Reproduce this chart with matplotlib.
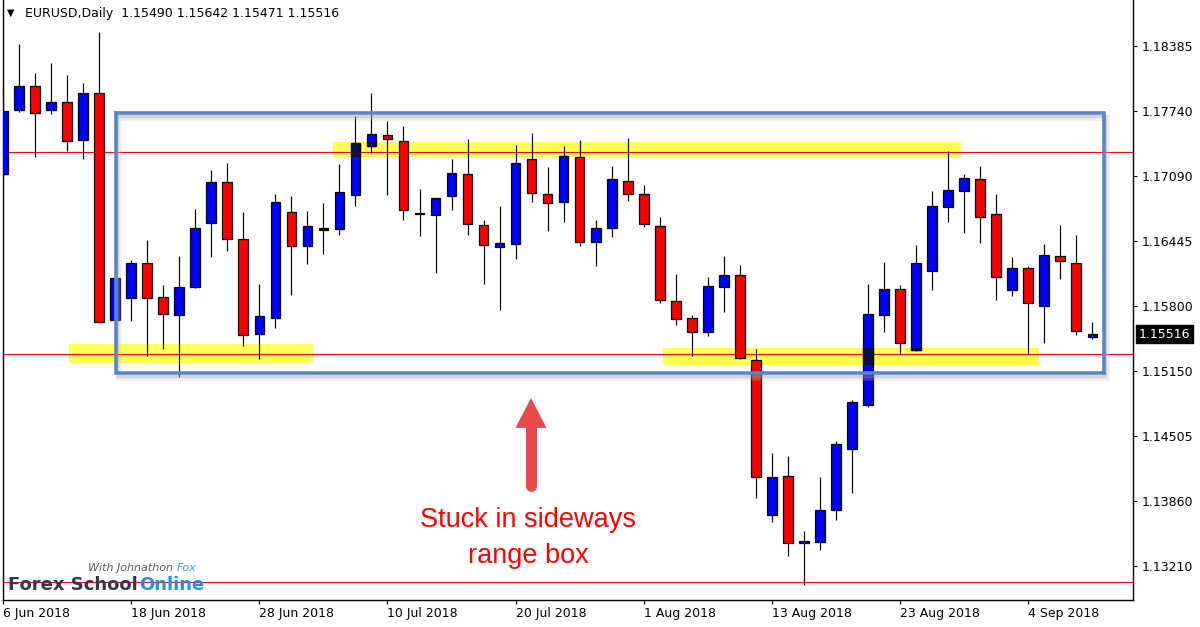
import numpy as np
import matplotlib
matplotlib.use('Agg')
import matplotlib.pyplot as plt
from matplotlib.patches import Rectangle
import matplotlib.patheffects as pe

# ── data: EURUSD daily bars, 6 Jun 2018 .. 10 Sep 2018 ─────────────────────────
SYMBOL = "EURUSD,Daily"

opens = [1.17111, 1.17748, 1.17987, 1.17748, 1.17828, 1.17450, 1.17917, 1.15655,
         1.15878, 1.16226, 1.15888, 1.15708, 1.15987, 1.16624, 1.17032, 1.16465,
         1.15519, 1.15679, 1.16733, 1.16395, 1.16554, 1.16564, 1.16902, 1.17390,
         1.17499, 1.17440, 1.16723, 1.16703, 1.16893, 1.17111, 1.16604, 1.16385,
         1.16415, 1.17261, 1.16912, 1.16833, 1.17281, 1.16435, 1.16574, 1.17042,
         1.16912, 1.16594, 1.15848, 1.15679, 1.15539, 1.15987, 1.16106, 1.15261,
         1.13718, 1.14107, 1.13440, 1.13450, 1.13768, 1.14375, 1.14813, 1.15708,
         1.15967, 1.15360, 1.16146, 1.16783, 1.16942, 1.17062, 1.16713, 1.15957,
         1.16176, 1.15798, 1.16296, 1.16226, 1.15490]
highs = [1.17967, 1.18405, 1.18116, 1.18216, 1.18096, 1.18017, 1.18524, 1.16080,
         1.16256, 1.16455, 1.16007, 1.16296, 1.16763, 1.17151, 1.17221, 1.16733,
         1.16017, 1.16912, 1.16893, 1.16743, 1.16823, 1.17211, 1.17689, 1.17917,
         1.17639, 1.17589, 1.16962, 1.16873, 1.17261, 1.17460, 1.16654, 1.16793,
         1.17400, 1.17519, 1.17181, 1.17390, 1.17450, 1.16654, 1.17191, 1.17470,
         1.17002, 1.16684, 1.16116, 1.15708, 1.16087, 1.16296, 1.16206, 1.15370,
         1.14335, 1.14306, 1.13559, 1.14097, 1.14455, 1.14863, 1.16017, 1.16236,
         1.16007, 1.16405, 1.16942, 1.17340, 1.17111, 1.17191, 1.16912, 1.16286,
         1.16196, 1.16415, 1.16604, 1.16504, 1.15642]
lows = [1.17090, 1.17728, 1.17281, 1.17708, 1.17340, 1.17261, 1.15629, 1.15650,
        1.15649, 1.15301, 1.15370, 1.15092, 1.15977, 1.16286, 1.16345, 1.15400,
        1.15271, 1.15579, 1.15907, 1.16216, 1.16315, 1.16504, 1.16793, 1.17320,
        1.16902, 1.16654, 1.16495, 1.16126, 1.16753, 1.16504, 1.16017, 1.15758,
        1.16266, 1.16833, 1.16544, 1.16634, 1.16395, 1.16196, 1.16485, 1.16843,
        1.16584, 1.15828, 1.15609, 1.15301, 1.15500, 1.15738, 1.15271, 1.13888,
        1.13649, 1.13311, 1.13022, 1.13370, 1.13669, 1.13937, 1.14793, 1.15539,
        1.15310, 1.15350, 1.15957, 1.16634, 1.16524, 1.16425, 1.15858, 1.15898,
        1.15310, 1.15430, 1.16067, 1.15509, 1.15471]
closes = [1.17738, 1.17987, 1.17718, 1.17828, 1.17440, 1.17917, 1.15639, 1.16077,
          1.16226, 1.15878, 1.15718, 1.15987, 1.16574, 1.17032, 1.16465, 1.15509,
          1.15699, 1.16833, 1.16395, 1.16594, 1.16574, 1.16932, 1.17420, 1.17509,
          1.17460, 1.16753, 1.16718, 1.16873, 1.17121, 1.16614, 1.16405, 1.16425,
          1.17221, 1.16922, 1.16823, 1.17290, 1.16435, 1.16574, 1.17062, 1.16912,
          1.16614, 1.15858, 1.15669, 1.15539, 1.15997, 1.16106, 1.15281, 1.14097,
          1.14097, 1.13440, 1.13460, 1.13768, 1.14425, 1.14843, 1.15718, 1.15967,
          1.15430, 1.16226, 1.16793, 1.16952, 1.17072, 1.16684, 1.16087, 1.16176,
          1.15828, 1.16305, 1.16246, 1.15549, 1.15516]

date_ticks = [0, 8, 16, 24, 32, 40, 48, 56, 64]
date_labels = ["6 Jun 2018", "18 Jun 2018", "28 Jun 2018", "10 Jul 2018", "20 Jul 2018",
               "1 Aug 2018", "13 Aug 2018", "23 Aug 2018", "4 Sep 2018"]
price_ticks = [1.18385, 1.17740, 1.17090, 1.16445, 1.15800, 1.15150, 1.14505, 1.13860, 1.13210]

levels = [1.17333, 1.15320, 1.13052]          # red horizontal lines
# yellow zones: (first bar, last bar, low, high)
zones = [(20.6, 59.8, 1.17281, 1.17430),
         (4.1, 19.35, 1.15231, 1.15420),
         (41.2, 64.7, 1.15211, 1.15380)]
range_box = (7.05, 68.73, 1.15131, 1.17718)

# ── figure ────────────────────────────────────────────────────────────────────
W, H = 1200, 627
fig = plt.figure(figsize=(W / 100, H / 100), dpi=100)
ax = fig.add_axes([3 / W, 27 / H, 1130 / W, 600 / H])
ax.set_xlim(0, 70.54)
ax.set_ylim(1.128715, 1.188428)

o = np.array(opens); h = np.array(highs); l = np.array(lows); c = np.array(closes)
x = np.arange(len(o))
up = c >= o
body_col = np.where(up, '#0000ff', '#ff0000')
bottoms = np.minimum(o, c)
heights = np.maximum(np.abs(c - o), 0.00002)

# levels + zones
for lv in levels:
    ax.axhline(lv, color='#ff0000', lw=0.8, zorder=2)

zone_patches = []
for x0, x1, lo, hi in zones:
    r = Rectangle((x0, lo), x1 - x0, hi - lo, facecolor='#ffff55', edgecolor='none', zorder=1)
    ax.add_patch(r)
    zone_patches.append(r)

# candles
ax.vlines(x, l, h, color='black', lw=0.85, zorder=3)
ax.bar(x, heights, bottom=bottoms, width=0.6, color=body_col, edgecolor='black',
       linewidth=0.9, zorder=4)

# blue bodies look dark navy where the highlight sits over them
for r in zone_patches:
    bars = ax.bar(x[up], heights[up], bottom=bottoms[up], width=0.6, color='#0b0b4f',
                  edgecolor='black', linewidth=0.9, zorder=4.5)
    for p in bars:
        p.set_clip_path(r)

# range box with soft drop shadow
bx0, bx1, blo, bhi = range_box
ax.plot([bx0, bx1, bx1, bx0, bx0], [bhi, bhi, blo, blo, bhi], color='#5a86c6', lw=2.6,
        solid_joinstyle='miter', zorder=6,
        path_effects=[pe.SimpleLineShadow(offset=(2, -3.5), shadow_color='#bbbbbb', alpha=0.25, linewidth=4),
                      pe.SimpleLineShadow(offset=(1, -2), shadow_color='#999999', alpha=0.3, linewidth=2.5),
                      pe.Normal()])

# arrow
ax_x = 32.96
arrow_col = '#e84a4a'
ax.plot([ax_x, ax_x], [1.14010, 1.14600], color=arrow_col, lw=7.9, solid_capstyle='round', zorder=7)
ax.fill([ax_x - 0.97, ax_x + 0.97, ax_x], [1.14584, 1.14584, 1.14882], color=arrow_col,
        lw=0, zorder=7)

ax.text(32.8, 1.13598, "Stuck in sideways", ha='center', va='baseline', color='#ff0000',
        fontsize=19.5, family='Liberation Sans', zorder=8)
ax.text(32.8, 1.13240, "range box", ha='center', va='baseline', color='#ff0000',
        fontsize=19.5, family='Liberation Sans', zorder=8)

# axes styling
for s in ['left', 'bottom', 'right']:
    ax.spines[s].set_color('black')
    ax.spines[s].set_linewidth(1)
ax.spines['top'].set_visible(False)
ax.yaxis.tick_right()
ax.set_yticks(price_ticks)
ax.set_yticklabels([f"{p:.5f}" for p in price_ticks])
ax.tick_params(axis='y', direction='out', length=3, width=0.8, pad=3, labelsize=9)
ax.set_xticks(date_ticks)
ax.set_xticklabels(date_labels, ha='left')
ax.tick_params(axis='x', direction='out', length=3, width=0.8, pad=2, labelsize=9)

# last price tag
ax.annotate(f"{closes[-1]:.5f}", xy=(1, closes[-1]), xycoords=('axes fraction', 'data'),
            xytext=(4, 0), textcoords='offset points', ha='left', va='center',
            color='white', fontsize=9, annotation_clip=False, zorder=10,
            bbox=dict(boxstyle='square,pad=0.2', fc='black', ec='black'))

# header
fig.text(7 / W, 1 - 13 / H, '\u25BC', fontsize=7, va='center', ha='left')
fig.text(25 / W, 1 - 13 / H,
         f"{SYMBOL}  {opens[-1]:.5f} {highs[-1]:.5f} {lows[-1]:.5f} {closes[-1]:.5f}",
         fontsize=9, va='center', ha='left')

# logo
renderer = fig.canvas.get_renderer()
t1 = fig.text(8 / W, 37 / H, "Forex School", fontsize=13, weight='bold', color='#34344e',
              va='baseline', ha='left', zorder=1)
bb = t1.get_window_extent(renderer)
fig.text((bb.x1 + 1) / W, 37 / H, "Online", fontsize=13, weight='bold', color='#2490d8',
         va='baseline', ha='left')
t3 = fig.text(88 / W, 56 / H, "With Johnathon ", fontsize=8, style='italic', color='#555566',
              va='baseline', ha='left')
bb3 = t3.get_window_extent(renderer)
fig.text(bb3.x1 / W, 56 / H, "Fox", fontsize=8, style='italic', color='#3aa0e0',
         va='baseline', ha='left')

fig.savefig('out.png', dpi=100)
